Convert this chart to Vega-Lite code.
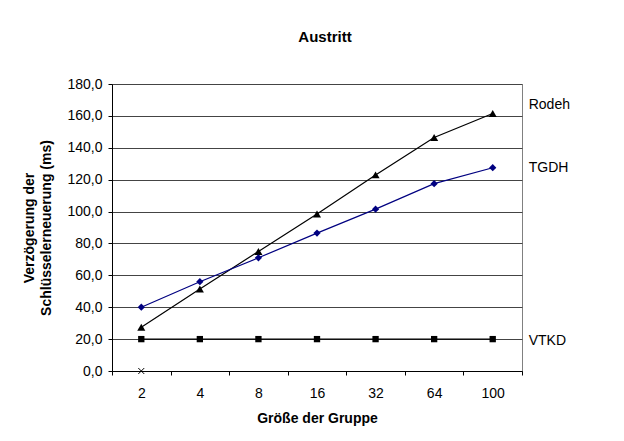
{
  "$schema": "https://vega.github.io/schema/vega-lite/v6.json",
  "width": 410,
  "height": 287,
  "autosize": {"type": "none"},
  "padding": {"left": 112, "top": 84, "right": 102, "bottom": 70},
  "background": "white",
  "config": {
    "font": "Liberation Sans",
    "view": {"stroke": "#808080", "strokeWidth": 1}
  },
  "title": {"text": "Austritt", "fontSize": 15, "font": "Liberation Sans", "fontWeight": "bold", "offset": 32, "dx": 8, "color": "black"},
  "data": {
    "values": [
      {"g": "2", "s": "Rodeh", "v": 27.5},
      {"g": "4", "s": "Rodeh", "v": 51.5},
      {"g": "8", "s": "Rodeh", "v": 75},
      {"g": "16", "s": "Rodeh", "v": 98.5},
      {"g": "32", "s": "Rodeh", "v": 123},
      {"g": "64", "s": "Rodeh", "v": 146.5},
      {"g": "100", "s": "Rodeh", "v": 161.5},
      {"g": "2", "s": "TGDH", "v": 40},
      {"g": "4", "s": "TGDH", "v": 56},
      {"g": "8", "s": "TGDH", "v": 71},
      {"g": "16", "s": "TGDH", "v": 86.5},
      {"g": "32", "s": "TGDH", "v": 101.5},
      {"g": "64", "s": "TGDH", "v": 117.5},
      {"g": "100", "s": "TGDH", "v": 127.5},
      {"g": "2", "s": "VTKD", "v": 20},
      {"g": "4", "s": "VTKD", "v": 20},
      {"g": "8", "s": "VTKD", "v": 20},
      {"g": "16", "s": "VTKD", "v": 20},
      {"g": "32", "s": "VTKD", "v": 20},
      {"g": "64", "s": "VTKD", "v": 20},
      {"g": "100", "s": "VTKD", "v": 20},
      {"g": "2", "s": "X", "v": 0}
    ]
  },
  "encoding": {
    "x": {
      "field": "g",
      "type": "ordinal",
      "sort": ["2", "4", "8", "16", "32", "64", "100"],
      "scale": {"type": "band", "paddingInner": 0, "paddingOuter": 0},
      "axis": {
        "title": "Größe der Gruppe",
        "titleFontSize": 14,
        "titleFontWeight": "bold",
        "titleColor": "black",
        "titlePadding": 11,
        "labelAngle": 0,
        "labelFontSize": 14,
        "labelColor": "black",
        "labelPadding": 11,
        "tickBand": "extent",
        "tickSize": 4,
        "tickColor": "black",
        "domainColor": "black",
        "grid": false
      }
    },
    "y": {
      "field": "v",
      "type": "quantitative",
      "scale": {"domain": [0, 180], "nice": false},
      "axis": {
        "title": ["Verzögerung der", "Schlüsselerneuerung (ms)"],
        "titleFontSize": 14,
        "titleFontWeight": "bold",
        "titleColor": "black",
        "titleLineHeight": 17,
        "titlePadding": 13,
        "values": [0, 20, 40, 60, 80, 100, 120, 140, 160, 180],
        "labelExpr": "replace(format(datum.value, '.1f'), '.', ',')",
        "labelFontSize": 14,
        "labelColor": "black",
        "labelPadding": 6,
        "tickSize": 4,
        "tickColor": "black",
        "domainColor": "black",
        "grid": true,
        "gridColor": "#444444",
        "gridWidth": 1
      }
    }
  },
  "layer": [
    {
      "mark": {"type": "line", "strokeWidth": 1.2},
      "encoding": {
        "color": {
          "field": "s",
          "type": "nominal",
          "scale": {"domain": ["Rodeh", "TGDH", "VTKD", "X"], "range": ["#000000", "#000080", "#000000", "#000000"]},
          "legend": null
        },
        "strokeWidth": {
          "field": "s",
          "type": "nominal",
          "scale": {"domain": ["Rodeh", "TGDH", "VTKD", "X"], "range": [1.2, 1, 2, 1]},
          "legend": null
        }
      }
    },
    {
      "mark": {"type": "point", "filled": true, "opacity": 1},
      "transform": [{"filter": "datum.s !== 'X'"}],
      "encoding": {
        "color": {
          "field": "s",
          "type": "nominal",
          "scale": {"domain": ["Rodeh", "TGDH", "VTKD", "X"], "range": ["#000000", "#000080", "#000000", "#000000"]},
          "legend": null
        },
        "shape": {
          "field": "s",
          "type": "nominal",
          "scale": {"domain": ["Rodeh", "TGDH", "VTKD"], "range": ["triangle-up", "diamond", "square"]},
          "legend": null
        },
        "size": {
          "field": "s",
          "type": "nominal",
          "scale": {"domain": ["Rodeh", "TGDH", "VTKD"], "range": [65, 40, 50]},
          "legend": null
        }
      }
    },
    {
      "mark": {"type": "point", "shape": "M-1,-1L1,1M-1,1L1,-1", "filled": false, "stroke": "black", "strokeWidth": 1, "size": 35, "opacity": 1},
      "transform": [{"filter": "datum.s === 'X'"}]
    },
    {
      "mark": {"type": "text", "align": "left", "baseline": "middle", "dx": 36, "dy": -8, "fontSize": 14, "color": "black"},
      "transform": [{"filter": "datum.s === 'Rodeh' && datum.g === '100'"}],
      "encoding": {"text": {"field": "s"}}
    },
    {
      "mark": {"type": "text", "align": "left", "baseline": "middle", "dx": 36, "dy": 0, "fontSize": 14, "color": "black"},
      "transform": [{"filter": "datum.s === 'TGDH' && datum.g === '100'"}],
      "encoding": {"text": {"field": "s"}}
    },
    {
      "mark": {"type": "text", "align": "left", "baseline": "middle", "dx": 36, "dy": 2, "fontSize": 14, "color": "black"},
      "transform": [{"filter": "datum.s === 'VTKD' && datum.g === '100'"}],
      "encoding": {"text": {"field": "s"}}
    }
  ]
}
